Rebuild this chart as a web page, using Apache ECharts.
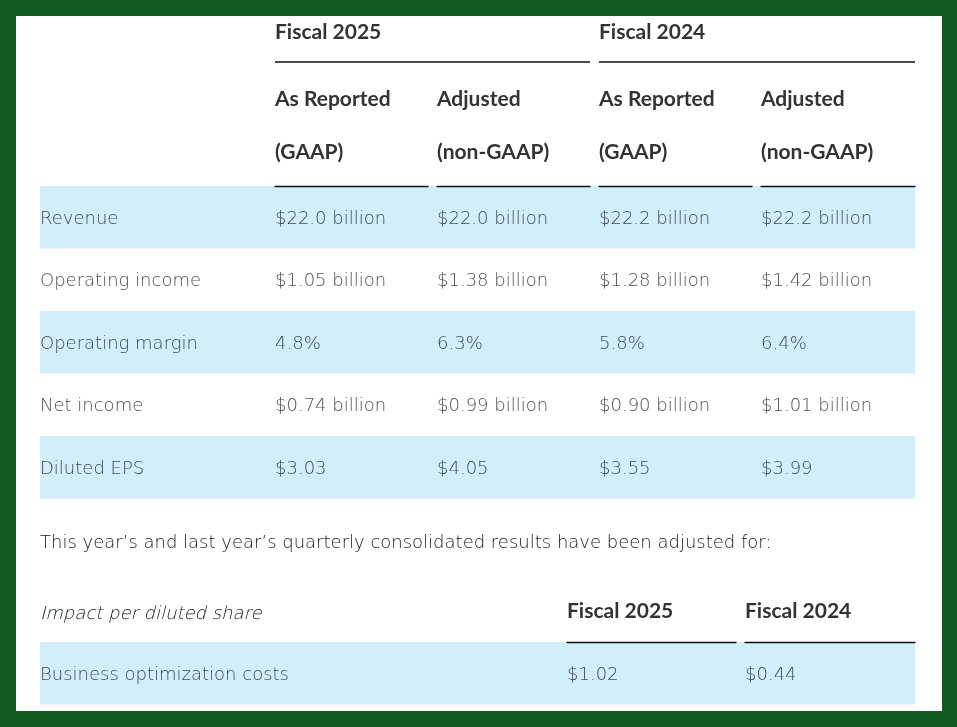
<!DOCTYPE html>
<html>
<head>
<meta charset="utf-8">
<script src="https://cdn.jsdelivr.net/npm/echarts@6/dist/echarts.min.js"></script>
<style>
html,body{margin:0;padding:0;background:#115a20;}
#chart{width:957px;height:727px;}
</style>
</head>
<body>
<div id="chart"></div>
<script>
// ---- data ----
const rowLabels = ['Revenue', 'Operating income', 'Operating margin', 'Net income', 'Diluted EPS'];
const rowPrefix = ['$', '$', '', '$', '$'];
const rowSuffix = [' billion', ' billion', '%', ' billion', ''];
const rowDecimals = [1, 2, 1, 2, 2];
const fy25Gaap = [22.0, 1.05, 4.8, 0.74, 3.03];
const fy25Adj = [22.0, 1.38, 6.3, 0.99, 4.05];
const fy24Gaap = [22.2, 1.28, 5.8, 0.90, 3.55];
const fy24Adj = [22.2, 1.42, 6.4, 1.01, 3.99];
const yearHeaders = ['Fiscal 2025', 'Fiscal 2024'];
const colHeaders = [['As Reported', '(GAAP)'], ['Adjusted', '(non-GAAP)'], ['As Reported', '(GAAP)'], ['Adjusted', '(non-GAAP)']];
const noteText = 'This year\u2019s and last year\u2019s quarterly consolidated results have been adjusted for:';
const impactHeader = 'Impact per diluted share';
const impactRows = ['Business optimization costs'];
const impactFy25 = [1.02];
const impactFy24 = [0.44];

// ---- styles ----
const BLUE = '#d1eefa';
const BODY_FAMILY = '"DejaVu Sans Light", "DejaVu Sans ExtraLight", "DejaVu Sans"';
const BODY = {fontFamily: BODY_FAMILY, fontWeight: 200, fontSize: 18, color: '#141c22'};
const HEAD_FONT = 'bold 21px Lato';
const HEAD_COLOR = '#333333';

const grids = [], xAxes = [], yAxes = [], series = [];
function addGrid(left, top, width, height, cats, opts) {
  const idx = grids.length;
  grids.push({left: left, top: top, width: width, height: height});
  xAxes.push({
    gridIndex: idx, type: 'value', min: 0, max: 1, position: 'top',
    axisLine: {show: !!opts.rule, onZero: false, lineStyle: {color: '#111111', width: 1.3}},
    axisTick: {show: false}, axisLabel: {show: false}, splitLine: {show: false}
  });
  yAxes.push({
    gridIndex: idx, type: 'category', data: cats, inverse: true,
    axisLine: {show: false}, axisTick: {show: false}, axisLabel: {show: false},
    splitLine: {show: false},
    splitArea: {show: !!opts.bands, areaStyle: {color: [BLUE, 'rgba(255,255,255,0)']}}
  });
  if (opts.texts) {
    series.push({
      type: 'scatter', xAxisIndex: idx, yAxisIndex: idx, symbolSize: 0, silent: true,
      data: cats.map((c, i) => ({value: [0, c], txt: opts.texts[i]})),
      label: {show: true, position: 'right', distance: 0, offset: [0, 2], formatter: p => p.data.txt,
        fontFamily: BODY.fontFamily, fontWeight: BODY.fontWeight, fontSize: BODY.fontSize,
        color: BODY.color}
    });
  }
  return idx;
}
function fmt(vals) {
  return vals.map((v, i) => rowPrefix[i] + v.toFixed(rowDecimals[i]) + rowSuffix[i]);
}

// main table
const TOP = 186, RH = 62.5, H = RH * rowLabels.length;
addGrid(40, TOP, 875, H, rowLabels, {bands: true});
addGrid(40, TOP, 235, H, rowLabels, {texts: rowLabels});
const cols = [fy25Gaap, fy25Adj, fy24Gaap, fy24Adj];
cols.forEach((c, i) => addGrid(275 + 162 * i, TOP, 153 + (i === 3 ? 1 : 0), H, rowLabels, {rule: true, texts: fmt(c)}));

// impact table
const TOP2 = 642;
addGrid(40, TOP2, 875, RH, impactRows, {bands: true});
addGrid(40, TOP2, 235, RH, impactRows, {texts: impactRows});
addGrid(567, TOP2, 169, RH, impactRows, {rule: true, texts: impactFy25.map(v => '$' + v.toFixed(2))});
addGrid(745, TOP2, 170, RH, impactRows, {rule: true, texts: impactFy24.map(v => '$' + v.toFixed(2))});

// header graphics
const graphic = [
  {type: 'rect', shape: {x: 16, y: 16, width: 926, height: 695}, style: {fill: '#ffffff'}, z: -10},
];
function headText(x, y, t) {
  graphic.push({type: 'text', x: x, y: y, style: {text: t, textVerticalAlign: 'middle', fill: HEAD_COLOR, font: HEAD_FONT}});
}
yearHeaders.forEach((t, i) => {
  const x = 275 + 324 * i;
  headText(x, 32, t);
  graphic.push({type: 'line', shape: {x1: x, y1: 62, x2: x + 315 + (i === 1 ? 1 : 0), y2: 62}, style: {stroke: '#111111', lineWidth: 1.3}});
});
colHeaders.forEach((h, i) => {
  const x = 275 + 162 * i;
  headText(x, 99, h[0]);
  headText(x, 152, h[1]);
});
graphic.push({type: 'text', x: 40, y: 543, style: {text: noteText, textVerticalAlign: 'middle', fill: BODY.color, font: '200 18px ' + BODY_FAMILY}});
graphic.push({type: 'text', x: 40, y: 614, style: {text: impactHeader, textVerticalAlign: 'middle', fill: BODY.color, font: 'italic 200 18px ' + BODY_FAMILY}});
headText(567, 611, yearHeaders[0]);
headText(745, 611, yearHeaders[1]);

const chart = echarts.init(document.getElementById('chart'), null, {renderer: 'canvas'});
chart.setOption({
  backgroundColor: '#115a20',
  animation: false,
  grid: grids, xAxis: xAxes, yAxis: yAxes, series: series,
  graphic: graphic
});
</script>
</body>
</html>
